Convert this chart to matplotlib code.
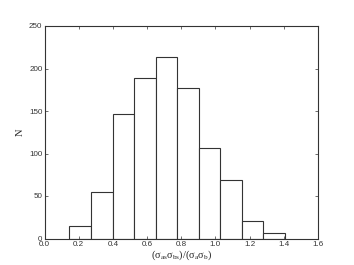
import numpy as np
import matplotlib
matplotlib.use("Agg")
import matplotlib.pyplot as plt

edges = [0.146, 0.272, 0.398, 0.524, 0.650, 0.776, 0.902, 1.028, 1.154, 1.280, 1.406]
counts = [15, 55, 146, 189, 214, 177, 107, 69, 21, 7]

plt.rcParams["mathtext.fontset"] = "custom"
plt.rcParams["mathtext.rm"] = "Liberation Serif"
plt.rcParams["mathtext.it"] = "Liberation Serif:italic"

fig = plt.figure(figsize=(3.54, 2.65), dpi=100)
ax = fig.add_axes([44.5/354, 1 - 238.5/265, (318 - 44.5)/354, (238.5 - 26)/265])

ax.bar(edges[:-1], counts, width=np.diff(edges), align="edge",
       facecolor="white", edgecolor="#333333", linewidth=0.8)

ax.set_xlim(0, 1.6)
ax.set_ylim(0, 250)
ax.set_xticks(np.arange(0, 1.61, 0.2))
ax.set_xticklabels(["%.1f" % v for v in np.arange(0, 1.61, 0.2)])
ax.set_yticks(range(0, 251, 50))
ax.tick_params(direction="in", top=True, right=True, length=2.5, width=0.5,
               labelsize=5.8, pad=1.5, colors="#333333")
for lbl in ax.get_xticklabels() + ax.get_yticklabels():
    lbl.set_family("Liberation Sans")
for s in ax.spines.values():
    s.set_color("#333333")
    s.set_linewidth(0.8)

ax.set_xlabel(r"$(\mathrm{\sigma_{as}\sigma_{bs}})/(\mathrm{\sigma_a\sigma_b})$", fontsize=7.5,
              family="Liberation Serif", labelpad=1, color="#222222")
ax.set_ylabel("N", fontsize=7.5, family="Liberation Serif", labelpad=3, color="#222222")

fig.savefig("out.png", dpi=100)
